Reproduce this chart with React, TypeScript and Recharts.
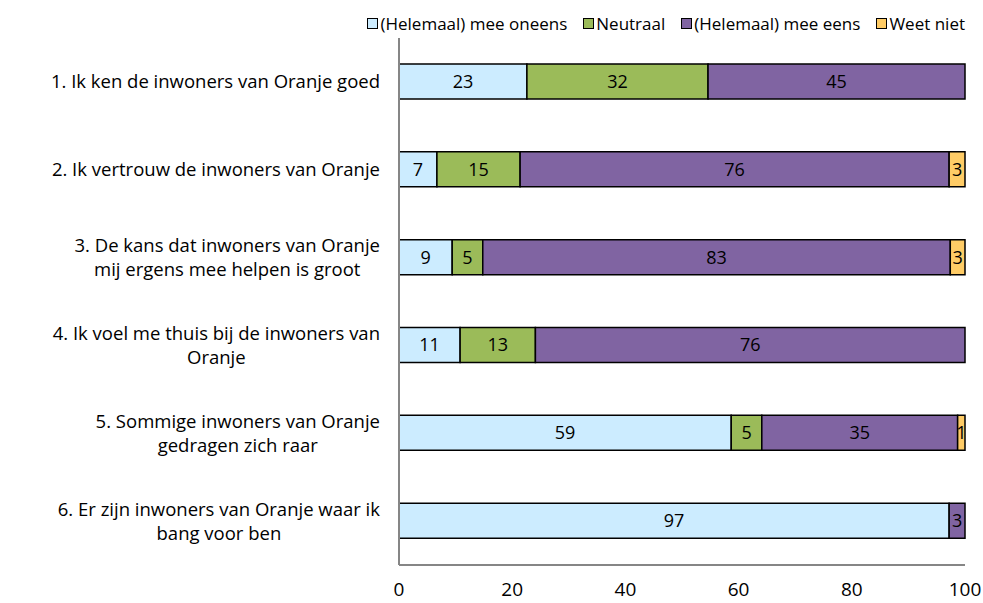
import { Bar, BarChart, LabelList, Legend, XAxis, YAxis } from "recharts"

const FONT = '"Open Sans", sans-serif'

// category labels, pre-wrapped like the source
const categories = [
  "1. Ik ken de inwoners van Oranje goed",
  "2. Ik vertrouw de inwoners van Oranje",
  "3. De kans dat inwoners van Oranje|mij ergens mee helpen is groot",
  "4. Ik voel me thuis bij de inwoners van|Oranje",
  "5. Sommige inwoners van Oranje|gedragen zich raar",
  "6. Er zijn inwoners van Oranje waar ik|bang voor ben",
]

// percentages per answer
const oneens = [22.6, 6.7, 9.4, 10.8, 58.7, 97.2]
const neutraal = [32.0, 14.7, 5.4, 13.3, 5.4, 0]
const eens = [45.4, 75.8, 82.6, 75.9, 34.6, 2.8]
const weetNiet = [0, 2.8, 2.6, 0, 1.3, 0]

const xTicks = [0, 20, 40, 60, 80, 100]

const series = [
  { key: "oneens", name: "(Helemaal) mee oneens", color: "#CCECFF" },
  { key: "neutraal", name: "Neutraal", color: "#9BBB59" },
  { key: "eens", name: "(Helemaal) mee eens", color: "#8064A2" },
  { key: "weetNiet", name: "Weet niet", color: "#FFCC66" },
]

const data = categories.map((label, i) => ({
  label,
  oneens: oneens[i],
  neutraal: neutraal[i],
  eens: eens[i],
  weetNiet: weetNiet[i],
}))

let ctx: CanvasRenderingContext2D | null = null
function textWidth(s: string, size: number) {
  if (!ctx) ctx = document.createElement("canvas").getContext("2d")
  if (!ctx) return s.length * size * 0.5
  ctx.font = `${size}px "Open Sans"`
  return ctx.measureText(s).width
}

// wrapped labels: block right-aligned to the axis, lines centred in the block
function CategoryTick(props: any) {
  const { x, y, payload } = props
  const lines: string[] = String(payload.value).split("|")
  const size = 18.5
  const lh = 24
  const blockW = Math.max(...lines.map((l) => textWidth(l, size)))
  const cx = x - blockW / 2
  const y0 = y - ((lines.length - 1) * lh) / 2
  return (
    <g>
      {lines.map((l, i) => (
        <text
          key={i}
          x={cx}
          y={y0 + i * lh}
          dy="0.35em"
          textAnchor="middle"
          fill="#000"
          fontSize={size}
          fontFamily={FONT}
        >
          {l}
        </text>
      ))}
    </g>
  )
}

function LegendContent() {
  return (
    <div
      style={{
        display: "flex",
        justifyContent: "flex-end",
        alignItems: "center",
        height: 30,
        fontFamily: FONT,
        fontSize: 17,
        color: "#000",
      }}
    >
      {series.map((s) => (
        <div key={s.key} style={{ display: "flex", alignItems: "center", marginLeft: 16 }}>
          <span
            style={{
              width: 9,
              height: 9,
              background: s.color,
              border: "1.5px solid #000",
              marginRight: 2,
              display: "inline-block",
            }}
          />
          <span>{s.name}</span>
        </div>
      ))}
    </div>
  )
}

const fmt = (v: any) => (v ? String(Math.round(Number(v))) : "")

export default function App() {
  return (
    <div style={{ position: "absolute", left: 0, top: 0, background: "#fff" }}>
      <BarChart
        width={983}
        height={603}
        data={data}
        layout="vertical"
        margin={{ top: 8, right: 18, bottom: 8, left: 0 }}
        barSize={35}
      >
        <Legend verticalAlign="top" align="right" content={<LegendContent />} />
        <XAxis
          type="number"
          domain={[0, 100]}
          ticks={xTicks}
          height={30}
          axisLine={{ stroke: "#868686", strokeWidth: 2 }}
          tickLine={false}
          tickSize={0}
          tickMargin={18}
          tick={{ fill: "#000", fontSize: 19, fontFamily: FONT }}
        />
        <YAxis
          type="category"
          dataKey="label"
          width={399}
          axisLine={{ stroke: "#868686", strokeWidth: 2 }}
          tickLine={false}
          tickSize={0}
          tickMargin={19}
          tick={<CategoryTick />}
          interval={0}
        />
        {series.map((s) => (
          <Bar
            key={s.key}
            dataKey={s.key}
            name={s.name}
            stackId="a"
            fill={s.color}
            stroke="#000"
            strokeWidth={1.5}
            isAnimationActive={false}
          >
            <LabelList
              dataKey={s.key}
              position="center"
              formatter={fmt}
              fill="#000"
              fontSize={18}
              fontFamily={FONT}
            />
          </Bar>
        ))}
      </BarChart>
    </div>
  )
}
